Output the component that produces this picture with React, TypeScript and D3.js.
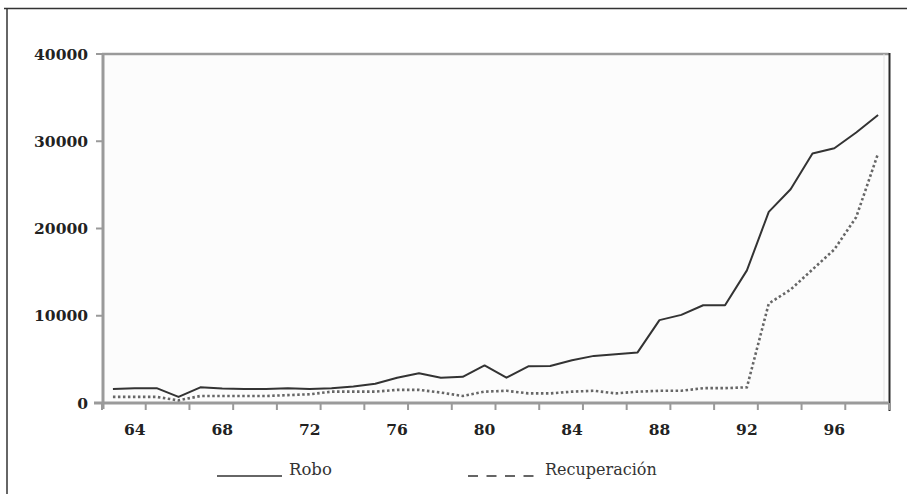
import * as d3 from 'd3'

// Years (two-digit) shown on the category axis
const years = [
  '63', '64', '65', '66', '67', '68', '69', '70', '71', '72', '73', '74',
  '75', '76', '77', '78', '79', '80', '81', '82', '83', '84', '85', '86',
  '87', '88', '89', '90', '91', '92', '93', '94', '95', '96', '97', '98'
]

const robo = [
  1600, 1700, 1700, 700, 1800, 1650, 1600, 1600, 1700, 1600, 1700, 1900,
  2200, 2900, 3400, 2900, 3000, 4300, 2900, 4200, 4250, 4900, 5400, 5600,
  5800, 9500, 10100, 11200, 11200, 15200, 21900, 24500, 28600, 29200, 31000, 33000
]

const recuperacion = [
  700, 700, 700, 300, 800, 800, 800, 800, 900, 1000, 1300, 1300,
  1300, 1500, 1500, 1200, 800, 1300, 1400, 1100, 1100, 1300, 1400, 1100,
  1300, 1400, 1400, 1700, 1700, 1800, 11400, 13000, 15300, 17600, 21300, 28600
]

const xLabels = ['64', '68', '72', '76', '80', '84', '88', '92', '96']
const yTicks = [0, 10000, 20000, 30000, 40000]

const W = 907
const H = 494

export default function App() {
  const left = 102
  const right = 889
  const top = 54
  const bottom = 403

  const x = d3.scaleBand<string>().domain(years).range([left, right]).padding(0)
  const y = d3.scaleLinear().domain([0, 40000]).range([bottom, top])
  const cx = (yr: string) => (x(yr) || 0) + x.bandwidth() / 2

  const line = d3
    .line<number>()
    .x((_d, i) => cx(years[i]))
    .y(d => y(d))

  // tick marks every two categories, at band boundaries
  const tickXs = years
    .filter((_yr, i) => i % 2 === 0)
    .map(yr => x(yr) || 0)
    .concat([right])

  const serif = '"DejaVu Serif", serif'

  return (
    <svg
      width={W}
      height={H}
      style={{ position: 'absolute', left: 0, top: 0, background: '#fff' }}
    >
      {/* outer frame */}
      <line x1={4} x2={W} y1={8.5} y2={8.5} stroke="#333" strokeWidth={1.5} />
      <line x1={7} x2={7} y1={8} y2={H} stroke="#333" strokeWidth={1.5} />

      {/* plot area */}
      <rect x={left} y={top} width={right - left} height={bottom - top} fill="#fcfcfc" />
      <line x1={left} x2={right} y1={top} y2={top} stroke="#9a9a9a" strokeWidth={2.5} />
      <line x1={right - 5} x2={right - 5} y1={top} y2={bottom} stroke="#e4e4e4" strokeWidth={1} />
      <line x1={right + 0.5} x2={right + 0.5} y1={top - 1} y2={bottom + 8} stroke="#2a2a2a" strokeWidth={2} />

      {/* y axis */}
      <line x1={left + 1} x2={left + 1} y1={top} y2={bottom + 6} stroke="#9a9a9a" strokeWidth={3} />
      {yTicks.map(t => (
        <g key={t}>
          <line x1={left - 6} x2={left} y1={y(t)} y2={y(t)} stroke="#9a9a9a" strokeWidth={2} />
          <text
            x={left - 14}
            y={y(t)}
            textAnchor="end"
            dominantBaseline="central"
            fontFamily={serif}
            fontWeight="bold"
            fontSize={15.5}
            fill="#222"
          >
            {t}
          </text>
        </g>
      ))}

      {/* x axis */}
      <line x1={left - 8} x2={right} y1={bottom} y2={bottom} stroke="#9a9a9a" strokeWidth={3} />
      {tickXs.map((tx, i) => (
        <line key={i} x1={tx} x2={tx} y1={bottom} y2={bottom + 7} stroke="#9a9a9a" strokeWidth={2} />
      ))}
      {xLabels.map(l => (
        <text
          key={l}
          x={cx(l)}
          y={435}
          textAnchor="middle"
          fontFamily={serif}
          fontWeight="bold"
          fontSize={15.5}
          fill="#222"
        >
          {l}
        </text>
      ))}

      {/* series */}
      <path
        d={line(recuperacion) || ''}
        fill="none"
        stroke="#666"
        strokeWidth={2.6}
        strokeDasharray="2.5 2.5"
      />
      <path d={line(robo) || ''} fill="none" stroke="#333" strokeWidth={2} strokeLinejoin="round" />

      {/* legend */}
      <line x1={217} x2={282} y1={476} y2={476} stroke="#333" strokeWidth={1.5} />
      <text x={289} y={475} fontFamily={serif} fontSize={16.5} fill="#333">
        Robo
      </text>
      <line
        x1={468}
        x2={534}
        y1={476}
        y2={476}
        stroke="#333"
        strokeWidth={1.5}
        strokeDasharray="10 8.5"
      />
      <text x={545} y={475} fontFamily={serif} fontSize={16} fill="#333">
        Recuperación
      </text>
    </svg>
  )
}
